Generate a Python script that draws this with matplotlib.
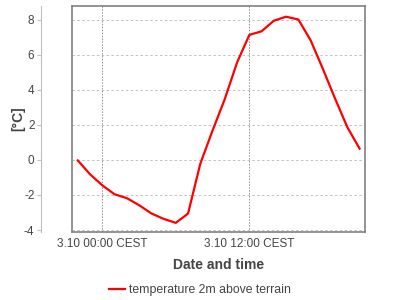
import matplotlib
matplotlib.use("Agg")
import matplotlib.pyplot as plt

# hours relative to 3.10 00:00 CEST
hours = [-2, -1, 0, 1, 2, 3, 4, 5, 6, 7, 8, 9, 10, 11,
         12, 13, 14, 15, 16, 17, 18, 19, 20, 21]
temperature = [-0.03, -0.82, -1.45, -1.96, -2.18, -2.58, -3.05, -3.36,
               -3.59, -3.06, -0.22, 1.67, 3.47, 5.55, 7.12, 7.33, 7.93,
               8.16, 8.00, 6.82, 5.19, 3.49, 1.86, 0.64]
xtick_pos = [0, 12]
xtick_labels = ["3.10 00:00 CEST", "3.10 12:00 CEST"]
ytick_pos = [-4, -2, 0, 2, 4, 6, 8]
series_label = "temperature 2m above terrain"

plt.rcParams["font.family"] = ["Liberation Sans", "DejaVu Sans"]
plt.rcParams["axes.unicode_minus"] = False

fig = plt.figure(figsize=(4, 3), dpi=100)
rect = [0.18, 0.2267, 0.7325, 0.7533]
ax = fig.add_axes(rect)

ax.plot(hours, temperature, color="#ff0000", lw=1.6, label=series_label,
        zorder=3)
ax.set_xlim(-2.47, 21.44)
ax.set_ylim(-4.11, 8.77)

ax.set_yticks(ytick_pos)
ax.set_xticks(xtick_pos, xtick_labels)
ax.grid(axis="y", color="#c0c0c0", lw=0.7, ls=(0, (2.5, 2.5)))
ax.grid(axis="x", color="#909090", lw=0.7, ls=(0, (1.5, 1.5)))

for side in ["top", "right", "bottom"]:
    ax.spines[side].set_visible(False)
ax.spines["left"].set_position(("outward", 22))
ax.spines["left"].set_color("#c0c0c0")
ax.spines["left"].set_linewidth(0.8)
ax.tick_params(axis="y", colors="#c0c0c0", labelcolor="#444444",
               labelsize=8.5, length=3, width=0.8, pad=2)
ax.tick_params(axis="x", length=0, labelcolor="#444444", labelsize=8.5,
               pad=4)

ax.set_xlabel("Date and time", fontsize=10, fontweight="bold",
              color="#444444", labelpad=6)
ax.set_ylabel("[°C]", fontsize=10, fontweight="bold", color="#444444")
ax.yaxis.set_label_coords(-0.158, 0.5)

# plot frame drawn as an overlay
frame = fig.add_axes(rect, facecolor="none")
frame.set_xticks([])
frame.set_yticks([])
for s in frame.spines.values():
    s.set_color("#808080")
    s.set_linewidth(1.2)

fig.legend(loc="lower center", bbox_to_anchor=(0.5, -0.025), frameon=False,
           fontsize=8.8, handlelength=1.3, handletextpad=0.35,
           labelcolor="#444444")

fig.savefig("out.png", dpi=100)
